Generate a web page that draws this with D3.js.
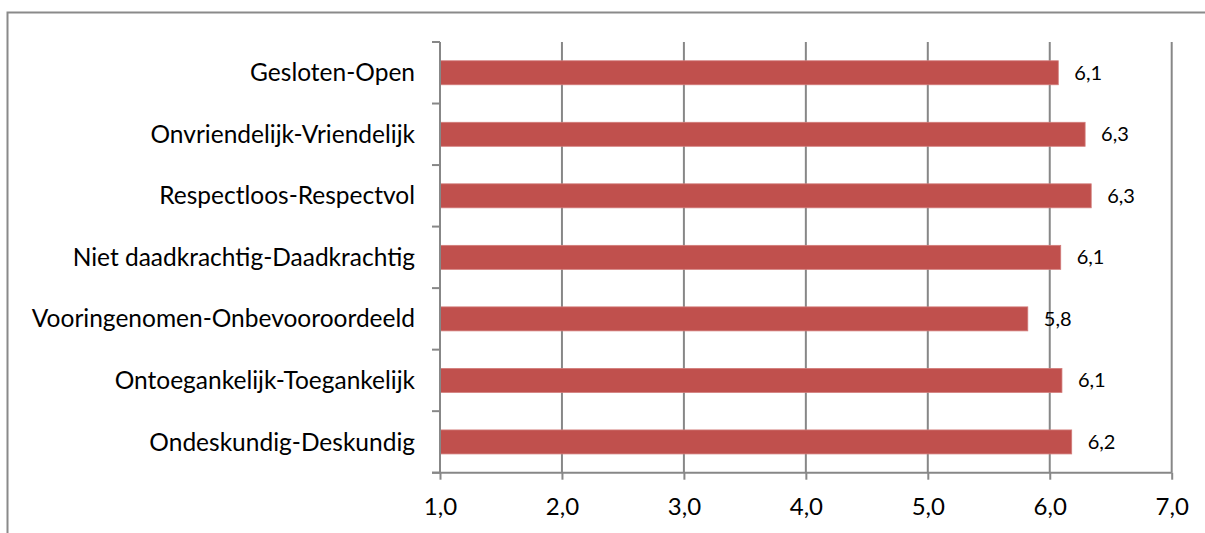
<!DOCTYPE html>
<html>
<head>
<meta charset="utf-8">
<script src="https://cdn.jsdelivr.net/npm/d3@7/dist/d3.min.js"></script>
<style>
  html, body { margin: 0; padding: 0; background: #fff; }
  svg { display: block; }
  text { font-family: Lato, "Open Sans", sans-serif; fill: #000; }
</style>
</head>
<body>
<svg id="chart" width="1205" height="533"></svg>
<script>
// Scale items, top to bottom
const categories = [
  "Gesloten-Open",
  "Onvriendelijk-Vriendelijk",
  "Respectloos-Respectvol",
  "Niet daadkrachtig-Daadkrachtig",
  "Vooringenomen-Onbevooroordeeld",
  "Ontoegankelijk-Toegankelijk",
  "Ondeskundig-Deskundig"
];
// Mean score per item (scale 1-7)
const scores = [6.07, 6.29, 6.34, 6.09, 5.82, 6.10, 6.18];
const xTicks = [1, 2, 3, 4, 5, 6, 7];

const fmt1 = v => d3.format(".1f")(v).replace(".", ",");

const svg = d3.select("#chart");
const W = 1205, H = 533;
const gridColor = "#878787";

// Outer chart frame
svg.append("rect")
  .attr("x", 7.5).attr("y", 12.5)
  .attr("width", W + 10).attr("height", H + 10)
  .attr("fill", "none").attr("stroke", "#8a8a8a").attr("stroke-width", 2);

const plot = { left: 440, right: 1171.7, top: 42, bottom: 472.7 };

const x = d3.scaleLinear().domain([1, 7]).range([plot.left, plot.right]);
const y = d3.scaleBand().domain(categories).range([plot.top, plot.bottom])
  .paddingInner(0.61).paddingOuter(0.305);

// Vertical gridlines
svg.append("g").selectAll("line")
  .data(xTicks.slice(1))
  .join("line")
  .attr("x1", d => x(d)).attr("x2", d => x(d))
  .attr("y1", plot.top).attr("y2", plot.bottom)
  .attr("stroke", gridColor).attr("stroke-width", 2);

// Bars
svg.append("g").selectAll("rect")
  .data(scores)
  .join("rect")
  .attr("x", x(1))
  .attr("y", (d, i) => y(categories[i]))
  .attr("width", d => x(d) - x(1))
  .attr("height", y.bandwidth())
  .attr("fill", "#C0504D")
  .attr("stroke", "#d27c7a").attr("stroke-width", 0.8);

// Value labels
svg.append("g").selectAll("text")
  .data(scores)
  .join("text")
  .attr("x", d => x(d) + 16)
  .attr("y", (d, i) => y(categories[i]) + y.bandwidth() / 2)
  .attr("dy", "0.35em")
  .attr("font-size", 20)
  .text(d => fmt1(d));

// Y axis: line with outward ticks at category boundaries
const yAxis = svg.append("g");
yAxis.append("line")
  .attr("x1", plot.left).attr("x2", plot.left)
  .attr("y1", plot.top).attr("y2", plot.bottom)
  .attr("stroke", gridColor).attr("stroke-width", 2);
const step = (plot.bottom - plot.top) / categories.length;
yAxis.selectAll("line.tick")
  .data(d3.range(categories.length + 1))
  .join("line").attr("class", "tick")
  .attr("x1", plot.left - 8).attr("x2", plot.left)
  .attr("y1", i => plot.top + i * step).attr("y2", i => plot.top + i * step)
  .attr("stroke", gridColor).attr("stroke-width", 2);
yAxis.selectAll("text")
  .data(categories)
  .join("text")
  .attr("x", 415)
  .attr("y", d => y(d) + y.bandwidth() / 2)
  .attr("dy", "0.35em")
  .attr("text-anchor", "end")
  .attr("font-size", 24.5)
  .text(d => d);

// X axis
const xAxis = d3.axisBottom(x)
  .tickValues(xTicks)
  .tickFormat(fmt1)
  .tickSize(7)
  .tickPadding(18);
const gx = svg.append("g")
  .attr("transform", `translate(0,${plot.bottom})`)
  .call(xAxis);
gx.select(".domain").remove();
gx.append("line")
  .attr("x1", plot.left - 8).attr("x2", plot.right)
  .attr("stroke", gridColor).attr("stroke-width", 2);
gx.selectAll(".tick line").attr("stroke", gridColor).attr("stroke-width", 2);
gx.selectAll(".tick text")
  .attr("font-size", 24)
  .attr("font-family", "Lato, 'Open Sans', sans-serif")
  .attr("fill", "#000");
</script>
</body>
</html>
